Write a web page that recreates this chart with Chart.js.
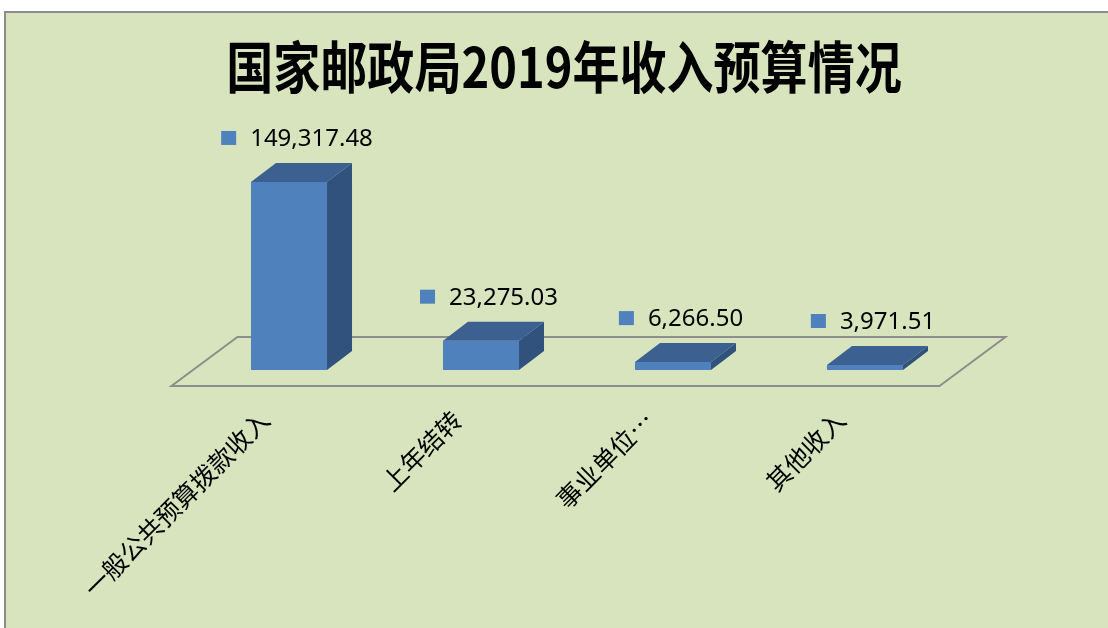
<!DOCTYPE html>
<html>
<head>
<meta charset="utf-8">
<script src="https://cdn.jsdelivr.net/npm/chart.js@4.4.1/dist/chart.umd.min.js"></script>
<style>
  html, body { margin: 0; padding: 0; width: 1108px; height: 628px; overflow: hidden; background: #fff; }
  #frame {
    position: absolute; left: 4px; top: 11px; width: 1120px; height: 640px;
    background: #d7e4bd; border-top: 2px solid #8c8c8c; border-left: 2px solid #8c8c8c;
  }
  #title {
    position: absolute; left: 0; top: 36px; width: 1128px; text-align: center;
    font-family: "Noto Sans CJK SC", sans-serif; font-weight: 700; font-size: 56px; line-height: 56px;
    color: #000; transform: scaleX(0.84); transform-origin: 564px 0;
  }
  #chart { position: absolute; left: 0; top: 0; }
</style>
</head>
<body>
<div id="frame"></div>
<div id="title">国家邮政局2019年收入预算情况</div>
<canvas id="chart" width="1108" height="628"></canvas>
<script>
  // budget items (unit: 万元)
  const categories = ["一般公共预算拨款收入", "上年结转", "事业单位…", "其他收入"];
  const revenue = [149317.48, 23275.03, 6266.50, 3971.51];

  const FRONT = "#4f81bd";
  const TOP = "#3c6190";
  const SIDE = "#31527d";
  const DX = 25, DY = -19; // bar depth

  const fmt = new Intl.NumberFormat("en-US", { minimumFractionDigits: 2, maximumFractionDigits: 2 });

  // floor parallelogram behind the bars
  const floor3d = {
    id: "floor3d",
    beforeDatasetsDraw(chart) {
      const { ctx, chartArea } = chart;
      const y0 = chart.scales.y.getPixelForValue(0);
      const k = 66 / 49;
      const front = y0 + 16, back = y0 - 33;
      const l = chartArea.left, r = chartArea.right;
      ctx.save();
      ctx.beginPath();
      ctx.moveTo(l - 16 * k, front);
      ctx.lineTo(r - 16 * k, front);
      ctx.lineTo(r + 33 * k, back);
      ctx.lineTo(l + 33 * k, back);
      ctx.closePath();
      ctx.strokeStyle = "#8e8e8e";
      ctx.lineWidth = 2;
      ctx.stroke();
      ctx.restore();
    },
  };

  // top / side faces and value labels
  const bars3d = {
    id: "bars3d",
    afterDatasetsDraw(chart) {
      const { ctx } = chart;
      const meta = chart.getDatasetMeta(0);
      ctx.save();
      meta.data.forEach((bar, i) => {
        const { x, y, base, width } = bar.getProps(["x", "y", "base", "width"], true);
        const l = x - width / 2, r = x + width / 2;

        ctx.fillStyle = TOP;
        ctx.beginPath();
        ctx.moveTo(l, y);
        ctx.lineTo(l + DX, y + DY);
        ctx.lineTo(r + DX, y + DY);
        ctx.lineTo(r, y);
        ctx.closePath();
        ctx.fill();

        ctx.fillStyle = SIDE;
        ctx.beginPath();
        ctx.moveTo(r, y);
        ctx.lineTo(r + DX, y + DY);
        ctx.lineTo(r + DX, base + DY);
        ctx.lineTo(r, base);
        ctx.closePath();
        ctx.fill();

        // label: key square + number
        const text = fmt.format(revenue[i]);
        ctx.font = '24px "Noto Sans", sans-serif';
        const tw = ctx.measureText(text).width;
        const total = 15 + 14 + tw;
        const cx = x + 8, cy = y - 44;
        const sx = cx - total / 2;
        ctx.fillStyle = FRONT;
        ctx.fillRect(sx, cy - 7, 15, 14);
        ctx.fillStyle = "#000";
        ctx.textBaseline = "middle";
        ctx.textAlign = "left";
        ctx.fillText(text, sx + 29, cy + 1);
      });
      ctx.restore();
    },
  };

  new Chart(document.getElementById("chart"), {
    type: "bar",
    data: {
      labels: categories,
      datasets: [
        {
          data: revenue,
          backgroundColor: FRONT,
          borderWidth: 0,
          barPercentage: 0.396,
          categoryPercentage: 1,
        },
      ],
    },
    options: {
      responsive: false,
      animation: false,
      devicePixelRatio: 1,
      layout: { padding: { left: 193, right: 147, top: 168.5, bottom: 0 } },
      plugins: { legend: { display: false }, tooltip: { enabled: false }, title: { display: false } },
      scales: {
        x: {
          grid: { display: false, drawTicks: false },
          border: { display: false },
          ticks: {
            color: "#000",
            font: { family: '"Noto Sans CJK SC", sans-serif', size: 25 },
            minRotation: 45,
            maxRotation: 45,
            autoSkip: false,
            padding: 35,
            labelOffset: -24,
          },
          afterFit(scale) { scale.height = 258; },
        },
        y: { display: false, min: 0, max: 160000 },
      },
    },
    plugins: [floor3d, bars3d],
  });
</script>
</body>
</html>
